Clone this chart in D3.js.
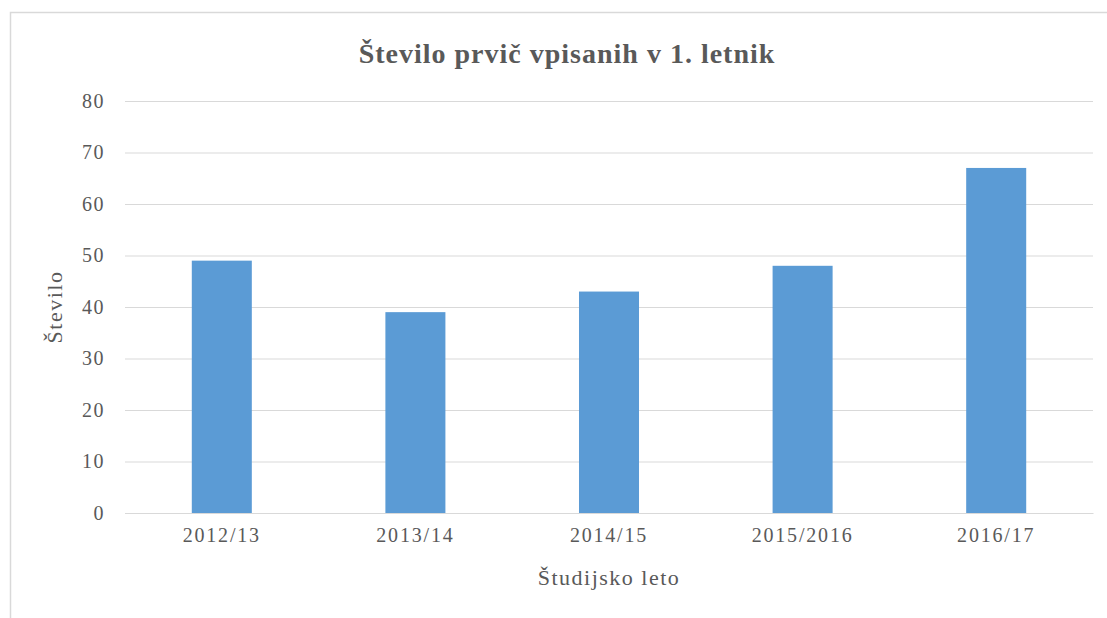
<!DOCTYPE html>
<html><head><meta charset="utf-8">
<script src="https://cdn.jsdelivr.net/npm/d3@7"></script>
<style>body{margin:0;background:#fff}svg{display:block}text{font-family:"Liberation Serif","DejaVu Serif",serif;fill:#595959}</style>
</head><body><svg id="c" width="1107" height="618"></svg>
<script>
const categories = ["2012/13","2013/14","2014/15","2015/2016","2016/17"];
const values = [49,39,43,48,67];
const yTicks = [0,10,20,30,40,50,60,70,80];
const title = "Število prvič vpisanih v 1. letnik";
const yTitle = "Število";
const xTitle = "Študijsko leto";

const svg = d3.select("#c");
svg.append("path").attr("d","M10.5,618 L10.5,12.5 L1107,12.5").attr("fill","none").attr("stroke","#d9d9d9").attr("stroke-width",1.5);

const m = {l:125, r:1093, t:101, b:513};
const x = d3.scaleBand().domain(categories).range([m.l,m.r]).paddingInner(0.69).paddingOuter(0.345);
const y = d3.scaleLinear().domain([0,80]).range([m.b,m.t]);

const gy = svg.append("g").attr("transform",`translate(${m.l},0)`)
  .call(d3.axisLeft(y).tickValues(yTicks).tickSize(-(m.r-m.l)).tickPadding(20));
gy.select(".domain").remove();
gy.selectAll(".tick line").attr("stroke","#d9d9d9").attr("stroke-width",1);
gy.selectAll(".tick text").style("font-size","20px").style("letter-spacing","1.5px").attr("fill","#595959");

svg.append("g").selectAll("rect").data(values).join("rect")
  .attr("x",(d,i)=>x(categories[i])).attr("width",x.bandwidth())
  .attr("y",d=>y(d)).attr("height",d=>y(0)-y(d)).attr("fill","#5b9bd5");

const gx = svg.append("g").attr("transform",`translate(0,${m.b})`)
  .call(d3.axisBottom(x).tickSize(0).tickPadding(15));
gx.select(".domain").attr("stroke","#d9d9d9");
gx.selectAll(".tick text").style("font-size","20px").style("letter-spacing","1.8px").attr("fill","#595959");

svg.append("text").attr("x",567).attr("y",63).attr("text-anchor","middle")
  .style("font-size","28px").style("font-weight","bold").style("letter-spacing","1px").text(title);
svg.append("text").attr("transform","translate(62,307) rotate(-90)").attr("text-anchor","middle")
  .style("font-size","22px").style("letter-spacing","1.5px").text(yTitle);
svg.append("text").attr("x",609).attr("y",585).attr("text-anchor","middle")
  .style("font-size","22px").style("letter-spacing","1.5px").text(xTitle);
</script></body></html>
